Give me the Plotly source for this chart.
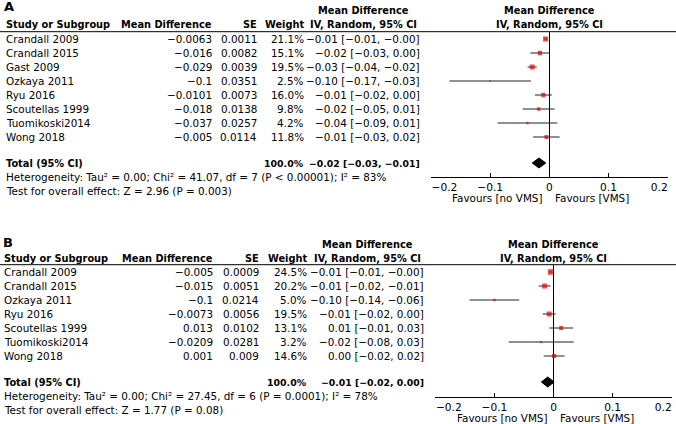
import plotly.graph_objects as go

# ---------------- data ----------------
A_studies = ["Crandall 2009", "Crandall 2015", "Gast 2009", "Ozkaya 2011", "Ryu 2016",
             "Scoutellas 1999", "Tuomikoski2014", "Wong 2018"]
A_md = [-0.0063, -0.016, -0.029, -0.1, -0.0101, -0.018, -0.037, -0.005]
A_se = [0.0011, 0.0082, 0.0039, 0.0351, 0.0073, 0.0138, 0.0257, 0.0114]
A_weight = [21.1, 15.1, 19.5, 2.5, 16.0, 9.8, 4.2, 11.8]
A_pool = [-0.0175, -0.029, -0.006]          # estimate, lower, upper
A_total_label = "-0.02 [-0.03, -0.01]"
A_het = "Heterogeneity: Tau² = 0.00; Chi² = 41.07, df = 7 (P < 0.00001); I² = 83%"
A_test = "Test for overall effect: Z = 2.96 (P = 0.003)"

B_studies = ["Crandall 2009", "Crandall 2015", "Ozkaya 2011", "Ryu 2016",
             "Scoutellas 1999", "Tuomikoski2014", "Wong 2018"]
B_md = [-0.005, -0.015, -0.1, -0.0073, 0.013, -0.0209, 0.001]
B_se = [0.0009, 0.0051, 0.0214, 0.0056, 0.0102, 0.0281, 0.009]
B_weight = [24.5, 20.2, 5.0, 19.5, 13.1, 3.2, 14.6]
B_pool = [-0.0097, -0.0206, 0.0011]
B_total_label = "-0.01 [-0.02, 0.00]"
B_het = "Heterogeneity: Tau² = 0.00; Chi² = 27.45, df = 6 (P = 0.0001); I² = 78%"
B_test = "Test for overall effect: Z = 1.77 (P = 0.08)"

tick_vals = [-0.2, -0.1, 0, 0.1, 0.2]
tick_text = ["-0.2", "-0.1", "0", "0.1", "0.2"]

# ---------------- helpers ----------------
W, H = 676, 424
FONT = "DejaVu Sans"
FS = 10.4
FSB = 9.8
MINUS = "\u2212"
FIG_SP = "\u2007"
NB_SP = "\u00a0"


def m(s):
    return s.replace("-", MINUS)


def fnum(v):
    return m(repr(v))


def ci_text(md, se):
    lo, hi = md - 1.96 * se, md + 1.96 * se
    return m(f"{md:.2f} [{lo:.2f}, {hi:.2f}]")


def tick_labels(texts):
    # end labels sit inside the axis ends (left-aligned / right-aligned), as in RevMan
    out = [m(t) for t in texts]
    out[0] = FIG_SP * 4 + out[0]
    out[-1] = out[-1] + FIG_SP * 2 + NB_SP
    return out


annotations = []
shapes = []


def txt(x, y, s, anchor="left", bold=False, size=None):
    if size is None:
        size = FSB if bold else FS
    annotations.append(dict(
        x=x / W, y=1 - y / H, xref="paper", yref="paper", text=(f"<b>{s}</b>" if bold else s),
        showarrow=False, xanchor=anchor, yanchor="middle",
        font=dict(family=FONT, size=size, color="black"), borderpad=0))


fig = go.Figure()

panels = [
    dict(label="A", studies=A_studies, md=A_md, se=A_se, w=A_weight, pool=A_pool,
         total=A_total_label, het=A_het, test=A_test,
         hdr1=10.7, hdr2=24.5, line=31.7, row0=39, step=14, total_y=163,
         het_y=177, test_y=191, axis_y=177, xl=431, xr=667.7, fav_y=198,
         cols=dict(name=5, md=213, se=258, w=305, ci=421), lab=(3, 7), ax="x", ay="y"),
    dict(label="B", studies=B_studies, md=B_md, se=B_se, w=B_weight, pool=B_pool,
         total=B_total_label, het=B_het, test=B_test,
         hdr1=244, hdr2=258, line=264.7, row0=272, step=14, total_y=382,
         het_y=396, test_y=410, axis_y=397, xl=435.3, xr=671.7, fav_y=418,
         cols=dict(name=3, md=214, se=260, w=308, ci=425), lab=(2, 243), ax="x2", ay="y2"),
]

layout_axes = {}
for i, p in enumerate(panels):
    c = p["cols"]
    n = len(p["studies"])
    # panel letter & headers
    txt(p["lab"][0], p["lab"][1], p["label"], bold=True, size=13)
    ci_center = c["ci"] - 58
    fp_center = p["xl"] + (p["xr"] - p["xl"]) / 2
    txt(ci_center, p["hdr1"], "Mean Difference", anchor="center", bold=True)
    txt(ci_center, p["hdr2"], "IV, Random, 95% CI", anchor="center", bold=True)
    txt(fp_center, p["hdr1"], "Mean Difference", anchor="center", bold=True)
    txt(fp_center, p["hdr2"], "IV, Random, 95% CI", anchor="center", bold=True)
    txt(c["name"], p["hdr2"], "Study or Subgroup", bold=True)
    txt(c["md"], p["hdr2"], "Mean Difference", anchor="right", bold=True)
    txt(c["se"], p["hdr2"], "SE", anchor="right", bold=True)
    txt(c["w"], p["hdr2"], "Weight", anchor="right", bold=True)
    shapes.append(dict(type="line", xref="paper", yref="paper", x0=0, x1=1,
                       y0=1 - p["line"] / H, y1=1 - p["line"] / H,
                       line=dict(color="black", width=1)))
    # rows
    for k in range(n):
        y = p["row0"] + p["step"] * k
        txt(c["name"], y, p["studies"][k])
        txt(c["md"], y, fnum(p["md"][k]), anchor="right")
        txt(c["se"], y, repr(p["se"][k]), anchor="right")
        txt(c["w"], y, f"{p['w'][k]:.1f}%", anchor="right")
        txt(c["ci"], y, ci_text(p["md"][k], p["se"][k]), anchor="right")
    txt(c["name"], p["total_y"], "Total (95% CI)", bold=True)
    txt(c["w"], p["total_y"], "100.0%", anchor="right", bold=True, size=9.4)
    txt(c["ci"], p["total_y"], m(p["total"]), anchor="right", bold=True, size=9.3)
    txt(c["name"], p["het_y"], p["het"])
    txt(c["name"], p["test_y"], p["test"])
    txt(fp_center - 5, p["fav_y"], "Favours [no VMS]", anchor="right")
    txt(fp_center + 5, p["fav_y"], "Favours [VMS]", anchor="left")

    # forest plot axes: rows in units of row index
    r_top = (p["line"] - p["row0"]) / p["step"]
    r_bot = (p["axis_y"] - p["row0"]) / p["step"]
    total_row = (p["total_y"] - p["row0"]) / p["step"]
    xa = "xaxis" if i == 0 else "xaxis2"
    ya = "yaxis" if i == 0 else "yaxis2"
    layout_axes[xa] = dict(domain=[p["xl"] / W, p["xr"] / W], range=[-0.2, 0.2],
                           anchor=p["ay"], showgrid=False, showline=True, linecolor="black",
                           linewidth=1, ticks="inside", ticklen=4, tickcolor="black",
                           tickwidth=1, tickvals=tick_vals, ticktext=tick_labels(tick_text),
                           tickfont=dict(family=FONT, size=10.6, color="black"),
                           ticklabeloverflow="allow",
                           zeroline=True, zerolinecolor="black", zerolinewidth=1,
                           fixedrange=True)
    layout_axes[ya] = dict(domain=[1 - p["axis_y"] / H, 1 - p["line"] / H],
                           range=[r_bot, r_top], anchor=p["ax"], visible=False,
                           showgrid=False, zeroline=False, fixedrange=True)

    rows = list(range(n))
    # CI lines
    xs, ys = [], []
    for k in rows:
        xs += [p["md"][k] - 1.96 * p["se"][k], p["md"][k] + 1.96 * p["se"][k], None]
        ys += [k, k, None]
    fig.add_trace(go.Scatter(x=xs, y=ys, mode="lines", line=dict(color="#222", width=1),
                             xaxis=p["ax"], yaxis=p["ay"], hoverinfo="skip"))
    # weighted squares
    fig.add_trace(go.Scatter(x=p["md"], y=rows, mode="markers",
                             marker=dict(symbol="square", color="#e00000",
                                         size=[1.1 * (w ** 0.5) for w in p["w"]],
                                         line=dict(width=0)),
                             xaxis=p["ax"], yaxis=p["ay"]))
    # diamond
    est, lo, hi = p["pool"]
    hh = 5 / p["step"]
    fig.add_trace(go.Scatter(x=[lo, est, hi, est, lo],
                             y=[total_row, total_row - hh, total_row, total_row + hh, total_row],
                             mode="lines", fill="toself", fillcolor="black",
                             line=dict(color="black", width=1),
                             xaxis=p["ax"], yaxis=p["ay"], hoverinfo="skip"))

fig.update_layout(
    width=W, height=H, margin=dict(l=0, r=0, t=0, b=0, autoexpand=False),
    paper_bgcolor="white", plot_bgcolor="white", showlegend=False,
    annotations=annotations, shapes=shapes,
    font=dict(family=FONT, size=FS, color="black"),
    **layout_axes,
)

fig.write_html("out.html", config={"displayModeBar": False},
               post_script="document.body.style.margin='0';")
